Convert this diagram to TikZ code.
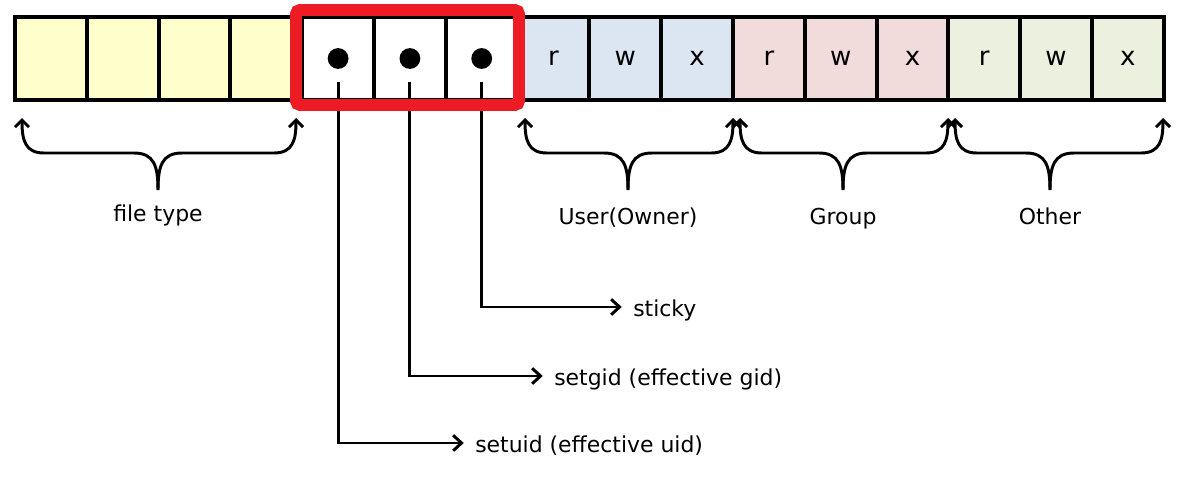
\documentclass[tikz,border=0pt]{standalone}
\usepackage{fontspec}
\setmainfont{DejaVu Sans}
\usetikzlibrary{arrows.meta}
\definecolor{cyel}{HTML}{FFFFCC}
\definecolor{cblu}{HTML}{DCE6F2}
\definecolor{cpnk}{HTML}{F2DCDB}
\definecolor{cgrn}{HTML}{EBF1DE}
\definecolor{cred}{HTML}{ED1C24}
\begin{document}
\begin{tikzpicture}[x=0.025cm,y=-0.025cm,
 cell/.style={draw=black,line width=2.8pt,minimum width=1.795cm,minimum height=2.075cm,inner sep=0pt,font=\fontsize{18.5}{20}\selectfont},
 bitdot/.style={circle,fill=black,minimum size=0.52cm,inner sep=0pt},
 conn/.style={line width=2.1pt,-{Straight Barb[length=6pt,width=11pt]}},
 bracearr/.style={line width=2.1pt,-{Straight Barb[length=5pt,width=10pt]}},
 lab/.style={font=\fontsize{15.6}{18}\selectfont,inner sep=0pt},
 sidelab/.style={lab,anchor=west,text height=14.2pt,text depth=0pt},
 redbox/.style={draw=cred,line width=8.5pt,rounded corners=3pt}]
\useasboundingbox (0,0) rectangle (1180,480);
\fill[white] (0,0) rectangle (1180,480);
\foreach \i/\c/\t in {1/cyel/{},2/cyel/{},3/cyel/{},4/cyel/{},5/white/{},6/white/{},7/white/{},8/cblu/r,9/cblu/w,10/cblu/x,11/cpnk/r,12/cpnk/w,13/cpnk/x,14/cgrn/r,15/cgrn/w,16/cgrn/x}
  \node[cell,fill=\c] (c\i) at ({15+(\i-0.5)*71.8},58.5) {\t};
\node[bitdot] (d1) at (c5) {};
\node[bitdot] (d2) at (c6) {};
\node[bitdot] (d3) at (c7) {};
\node[sidelab] (sticky) at (633,307) {sticky};
\node[sidelab] (sgid) at (554,376) {setgid (effective gid)};
\node[sidelab] (suid) at (475,443) {setuid (effective uid)};
\draw[conn,shorten <=9pt,shorten >=8pt] (d3.south) |- (sticky.west);
\draw[conn,shorten <=9pt,shorten >=8pt] (d2.south) |- (sgid.west);
\draw[conn,shorten <=9pt,shorten >=8pt] (d1.south) |- (suid.west);
\draw[redbox] (296,10) rectangle (519,105);
\foreach \n/\a/\b/\m/\t/\ty in {ft/22/296/158/file type/221,us/525/733/628/User(Owner)/224,gr/740/948/843/Group/224,ot/955/1163/1050/Other/224}
{
  \coordinate (\n L) at (\a,118);
  \coordinate (\n R) at (\b,118);
  \coordinate (\n M) at (\m,190);
  \draw[bracearr] (\n M) .. controls (\m,166) and (\m-4,153) .. (\m-24,153) -- (\a+22,153) .. controls (\a+3,153) and (\a,140) .. (\n L);
  \draw[bracearr] (\n M) .. controls (\m,166) and (\m+4,153) .. (\m+24,153) -- (\b-22,153) .. controls (\b-3,153) and (\b,140) .. (\n R);
  \node[lab,anchor=base] (\n T) at (\m,\ty) {\t};
}
\end{tikzpicture}
\end{document}
